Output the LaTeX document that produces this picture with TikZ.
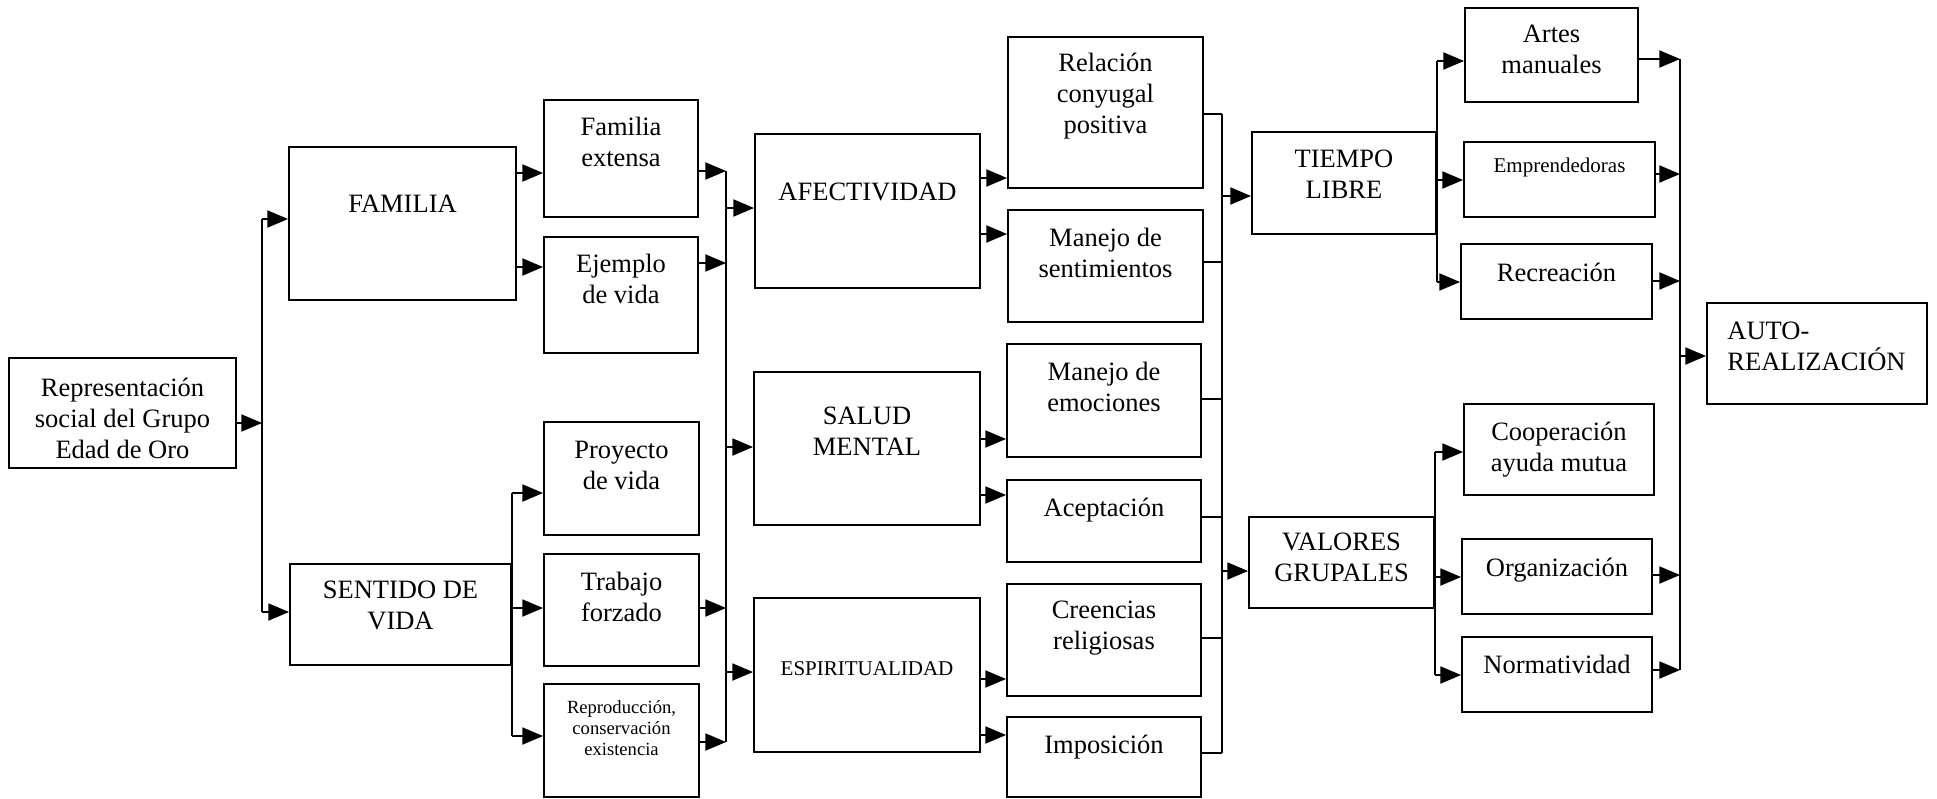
\documentclass[tikz,border=0pt]{standalone}
\usepackage{fontspec}
\setmainfont{Liberation Serif}
\usetikzlibrary{arrows}
\newcommand{\txtsmall}{\fontsize{10.5}{12}\selectfont}
\newcommand{\txttiny}{\fontsize{9.3}{10.5}\selectfont}

\begin{document}
\begin{tikzpicture}[x=0.5pt, y=-0.5pt, >=triangle 45,
  font=\fontsize{13.25}{15.5}\selectfont,
  box/.style={draw, line width=1pt, inner sep=0pt},
  sz/.style 2 args={minimum width=#1*0.5pt, minimum height=#2*0.5pt},
  lbl/.style={anchor=north, align=center, inner sep=0pt, yshift=#1},
  lbl/.default=-9.5pt,
  arr/.style={->, line width=1.4pt},
  wire/.style={line width=1pt}]

\useasboundingbox (0,0) rectangle (1937,798);

% first columns
\node [box, sz={227}{110}, label={[lbl=-10.5pt]north:{Representación\\social del Grupo\\Edad de Oro}}] (rep) at (122.5,413) {};
\node [box, sz={227}{153}, label={[lbl=-24.5pt]north:FAMILIA}] (famil) at (402.5,223.5) {};
\node [box, sz={221}{101}, label={[lbl=-9pt]north:{SENTIDO DE\\VIDA}}] (sentido) at (400.5,614.5) {};

\node [box, sz={154}{117}, label={[lbl=-9pt]north:{Familia\\extensa}}] (fext) at (621,158.5) {};
\node [box, sz={154}{116}, label={[lbl=-9pt]north:{Ejemplo\\de vida}}] (ejem) at (621,295) {};
\node [box, sz={155}{113}, label={[lbl=-10pt]north:{Proyecto\\de vida}}] (proy) at (621.5,478.5) {};
\node [box, sz={155}{112}, label={[lbl]north:{Trabajo\\forzado}}] (trab) at (621.5,610) {};
\node [box, sz={155}{113}, label={[lbl=-8.5pt, font=\txttiny]north:{Reproducción,\\conservación\\existencia}}] (repro) at (621.5,740.5) {};

% middle columns
\node [box, sz={225}{154}, label={[lbl=-25pt]north:AFECTIVIDAD}] (afec) at (867.5,211) {};
\node [box, sz={226}{153}, label={[lbl=-18pt]north:{SALUD\\MENTAL}}] (salud) at (867,448.5) {};
\node [box, sz={226}{154}, label={[lbl=-32pt, font=\txtsmall]north:ESPIRITUALIDAD}] (espir) at (867,675) {};

\node [box, sz={195}{151}, label={[lbl=-8.5pt]north:{Relación\\conyugal\\positiva}}] (rel) at (1105.5,112.5) {};
\node [box, sz={195}{112}, label={[lbl]north:{Manejo de\\sentimientos}}] (msent) at (1105.5,266) {};
\node [box, sz={194}{113}, label={[lbl]north:{Manejo de\\emociones}}] (memo) at (1104,400.5) {};
\node [box, sz={194}{82}, label={[lbl]north:Aceptación}] (acep) at (1104,521) {};
\node [box, sz={194}{112}, label={[lbl=-9pt]north:{Creencias\\religiosas}}] (cree) at (1104,640) {};
\node [box, sz={194}{80}, label={[lbl]north:Imposición}] (impo) at (1104,757) {};

% right columns
\node [box, sz={184}{102}, label={[lbl=-9.5pt]north:{TIEMPO\\LIBRE}}] (tiempo) at (1344,183) {};
\node [box, sz={185}{91}, label={[lbl=-8.5pt]north:{VALORES\\GRUPALES}}] (valores) at (1341.5,562.5) {};

\node [box, sz={173}{94}, label={[lbl=-9pt]north:{Artes\\manuales}}] (artes) at (1551.5,55) {};
\node [box, sz={191}{75}, label={[lbl=-8.5pt, font=\txtsmall]north:Emprendedoras}] (empr) at (1559.5,179.5) {};
\node [box, sz={191}{75}, label={[lbl=-10pt]north:Recreación}] (recr) at (1556.5,281.5) {};
\node [box, sz={190}{91}, label={[lbl]north:{Cooperación\\ayuda mutua}}] (coop) at (1559,449.5) {};
\node [box, sz={190}{75}, label={[lbl=-10pt]north:Organización}] (orga) at (1557,576.5) {};
\node [box, sz={190}{75}, label={[lbl]north:Normatividad}] (norm) at (1557,674.5) {};

\node [box, sz={220}{101}, label={[lbl=-10pt, anchor=north west, align=left, xshift=10.5pt]north west:{AUTO-\\REALIZACIÓN}}] (auto) at (1817,353.5) {};

% bus lines
\coordinate (bA) at (262,423);
\coordinate (bD) at (726,0);
\coordinate (bF) at (1222,0);
\coordinate (bH) at (1680,0);

\draw [arr] (rep.east |- bA) -- (bA);
\draw [wire] (bA |- 0,219) -- (bA |- 0,612);
\draw [arr] (bA |- 0,219) -- (famil.west |- 0,219);
\draw [arr] (bA |- 0,612) -- (sentido.west |- 0,612);

\foreach \t/\y in {fext/173, ejem/267}
  \draw [arr] (famil.east |- 0,\y) -- (\t.west |- 0,\y);

\draw [wire] (sentido.east |- 0,493) -- (sentido.east |- 0,736);
\foreach \t/\y in {proy/493, trab/608, repro/736}
  \draw [arr] (sentido.east |- 0,\y) -- (\t.west |- 0,\y);

\foreach \s/\y in {fext/171, ejem/263, trab/608, repro/742}
  \draw [arr] (\s.east |- 0,\y) -- (bD |- 0,\y);
\draw [wire] (bD |- 0,171) -- (bD |- 0,742);
\foreach \t/\y in {afec/208, salud/447, espir/672}
  \draw [arr] (bD |- 0,\y) -- (\t.west |- 0,\y);

\foreach \s/\t/\y in {afec/rel/178, afec/msent/234, salud/memo/439, salud/acep/495, espir/cree/679, espir/impo/735}
  \draw [arr] (\s.east |- 0,\y) -- (\t.west |- 0,\y);

\foreach \s/\y in {rel/114, msent/262, memo/399, acep/517, cree/638, impo/753}
  \draw [wire] (\s.east |- 0,\y) -- (bF |- 0,\y);
\draw [wire] (bF |- 0,114) -- (bF |- 0,753);
\foreach \t/\y in {tiempo/196, valores/571}
  \draw [arr] (bF |- 0,\y) -- (\t.west |- 0,\y);

\draw [wire] (tiempo.east |- 0,61) -- (tiempo.east |- 0,282);
\foreach \t/\y in {artes/61, empr/180, recr/282}
  \draw [arr] (tiempo.east |- 0,\y) -- (\t.west |- 0,\y);
\draw [wire] (valores.east |- 0,452) -- (valores.east |- 0,675);
\foreach \t/\y in {coop/452, orga/577, norm/675}
  \draw [arr] (valores.east |- 0,\y) -- (\t.west |- 0,\y);

\foreach \s/\y in {artes/59, empr/174, recr/281, orga/575, norm/670}
  \draw [arr] (\s.east |- 0,\y) -- (bH |- 0,\y);
\draw [wire] (bH |- 0,59) -- (bH |- 0,670);
\draw [arr] (bH |- 0,356) -- (auto.west |- 0,356);

\end{tikzpicture}
\end{document}
